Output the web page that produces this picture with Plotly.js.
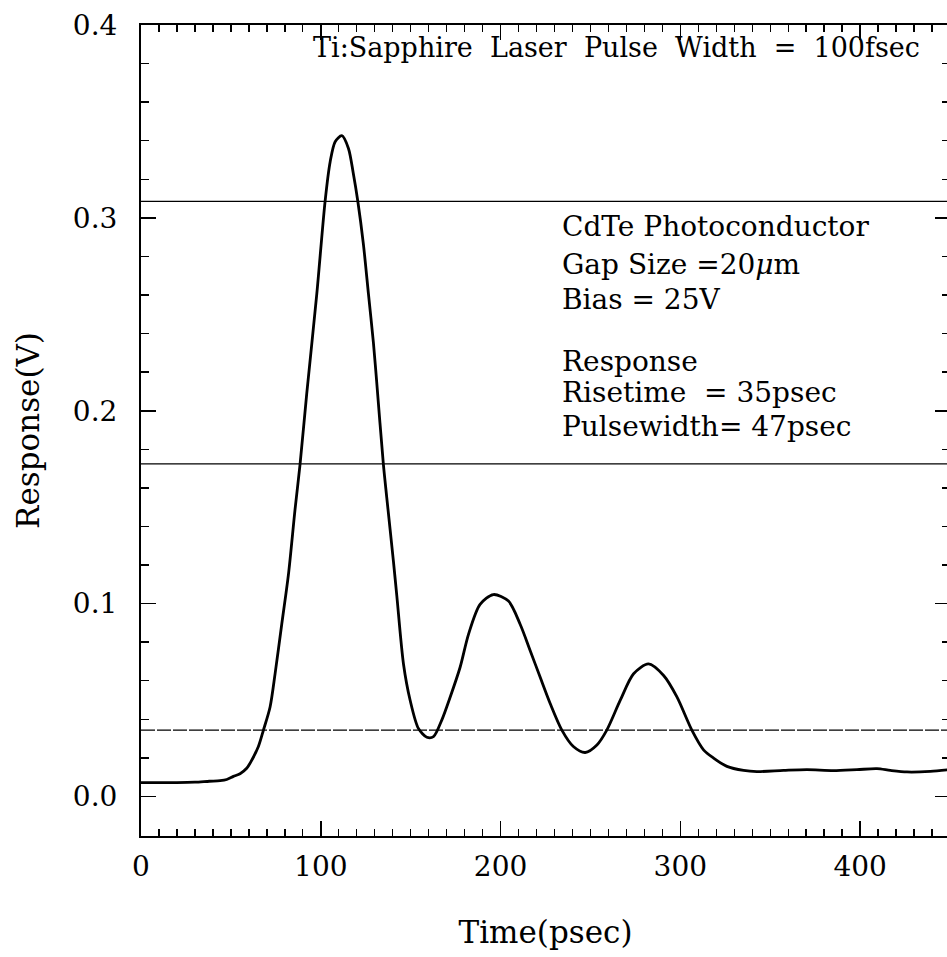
<!DOCTYPE html>
<html>
<head>
<meta charset="utf-8">
<script src="https://cdn.plot.ly/plotly-3.0.1.min.js"></script>
<style>html,body{margin:0;padding:0;background:#fff;overflow:hidden;}#chart{width:950px;height:957px;}</style>
</head>
<body>
<div id="chart"></div>
<script>
// Time (psec)
const timePs = [0, 10, 20, 30, 38, 44, 47.7, 51.4, 55.1, 58.8, 60.7, 65.3, 68.1, 71.8, 74.6, 78.3, 82, 85.7, 88.5, 92.2, 97.8, 102.4, 105.2, 108, 111.7, 115.4, 118.1, 120.6, 123.7, 126.5, 129.3, 131.1, 134.8, 136.7, 140.4, 142.3, 146, 149.7, 154.3, 159, 162.7, 167.3, 172, 177.5, 182.2, 188.6, 196, 204.4, 210.9, 216.5, 222, 227.6, 234.1, 240.5, 247.1, 253.6, 259.1, 266.6, 274, 282.3, 290.7, 298.1, 306.4, 312.9, 318.5, 325.9, 335.2, 342.6, 357.4, 370.4, 385.2, 398.3, 409.4, 416.8, 426.1, 439.1, 450];
// Response (V)
const responseV = [0.0072, 0.0072, 0.0072, 0.0074, 0.0079, 0.0082, 0.0088, 0.0104, 0.0118, 0.0146, 0.0173, 0.0259, 0.0344, 0.0464, 0.0637, 0.0894, 0.115, 0.149, 0.1724, 0.209, 0.2607, 0.3086, 0.329, 0.3395, 0.3426, 0.336, 0.323, 0.3086, 0.2864, 0.2607, 0.235, 0.215, 0.1724, 0.155, 0.122, 0.104, 0.0687, 0.0499, 0.0353, 0.0307, 0.031, 0.0396, 0.0516, 0.067, 0.0842, 0.0996, 0.1047, 0.1013, 0.0893, 0.0756, 0.0619, 0.0482, 0.0344, 0.0259, 0.0228, 0.0267, 0.0344, 0.0499, 0.0636, 0.0687, 0.0627, 0.0516, 0.0344, 0.0242, 0.0199, 0.0156, 0.0135, 0.0129, 0.0135, 0.0139, 0.0134, 0.0139, 0.0144, 0.0135, 0.0127, 0.013, 0.0139];
// Reference levels: 10%, 50%, 90% of peak (V)
const levelLines = [0.0344, 0.1724, 0.3086];
const levelDash = ['14px,2px', 'solid', 'solid'];
// Annotation texts
const headerText = 'Ti:Sapphire  Laser  Pulse  Width  =  100fsec';
const infoLines = ['CdTe Photoconductor', 'Gap Size =20<i>\u03BC</i>m', 'Bias = 25V', 'Response', 'Risetime  = 35psec', 'Pulsewidth= 47psec'];
const infoY = [226, 264, 299, 362, 392, 426];

const FONT = 'DejaVu Serif, serif';
const L = 141, T = 25, W = 950, H = 957, B = 836;
const px2paperY = y => (B - y) / (B - T);
const px2paperX = x => (x - L) / (W - L);
const nb = s => s.replace(/ /g, '&nbsp;');

const traces = [{
  x: timePs, y: responseV, type: 'scatter', mode: 'lines',
  line: {color: '#000', width: 2.8, shape: 'spline', smoothing: 0.8},
  hoverinfo: 'skip', showlegend: false
}];

const shapes = levelLines.map((v, i) => ({
  type: 'line', xref: 'paper', x0: 0, x1: 1, yref: 'y', y0: v, y1: v,
  line: {color: '#000', width: 1.3, dash: levelDash[i]}
}));

const annotations = [{
  xref: 'paper', yref: 'paper', x: px2paperX(922), y: px2paperY(47),
  xanchor: 'right', yanchor: 'middle', text: nb(headerText), showarrow: false,
  font: {family: FONT, size: 27, color: '#000'}
}].concat(infoLines.map((t, i) => ({
  xref: 'paper', yref: 'paper', x: px2paperX(560), y: px2paperY(infoY[i]),
  xanchor: 'left', yanchor: 'middle', text: nb(t), showarrow: false,
  font: {family: FONT, size: 28, color: '#000'}
})));

const layout = {
  width: W, height: H,
  margin: {l: L, r: 0, t: T, b: H - B},
  paper_bgcolor: '#fff', plot_bgcolor: '#fff',
  font: {family: FONT, color: '#000'},
  showlegend: false,
  xaxis: {
    range: [0, 450], dtick: 100, tick0: 0,
    ticks: 'inside', ticklen: 15, tickwidth: 1.6, tickcolor: '#000',
    minor: {dtick: 10, ticks: 'inside', ticklen: 7, tickwidth: 1.4, tickcolor: '#000'},
    showline: true, linewidth: 2, linecolor: '#000', mirror: 'allticks',
    showgrid: false, zeroline: false,
    tickfont: {family: FONT, size: 28, color: '#000'},
    ticklabelstandoff: 4,
    title: {text: 'Time(psec)', font: {family: FONT, size: 31, color: '#000'}, standoff: 40}
  },
  yaxis: {
    range: [-0.0205, 0.4], dtick: 0.1, tick0: 0, tickformat: '.1f',
    ticks: 'inside', ticklen: 15, tickwidth: 1.6, tickcolor: '#000',
    minor: {dtick: 0.02, ticks: 'inside', ticklen: 8, tickwidth: 1.4, tickcolor: '#000'},
    showline: true, linewidth: 2, linecolor: '#000', mirror: 'allticks',
    showgrid: false, zeroline: false,
    tickfont: {family: FONT, size: 28, color: '#000'},
    ticklabelstandoff: 16,
    title: {text: 'Response(V)', font: {family: FONT, size: 31, color: '#000'}, standoff: 24}
  },
  shapes: shapes,
  annotations: annotations
};

Plotly.newPlot('chart', traces, layout, {displayModeBar: false, staticPlot: true});
</script>
</body>
</html>
